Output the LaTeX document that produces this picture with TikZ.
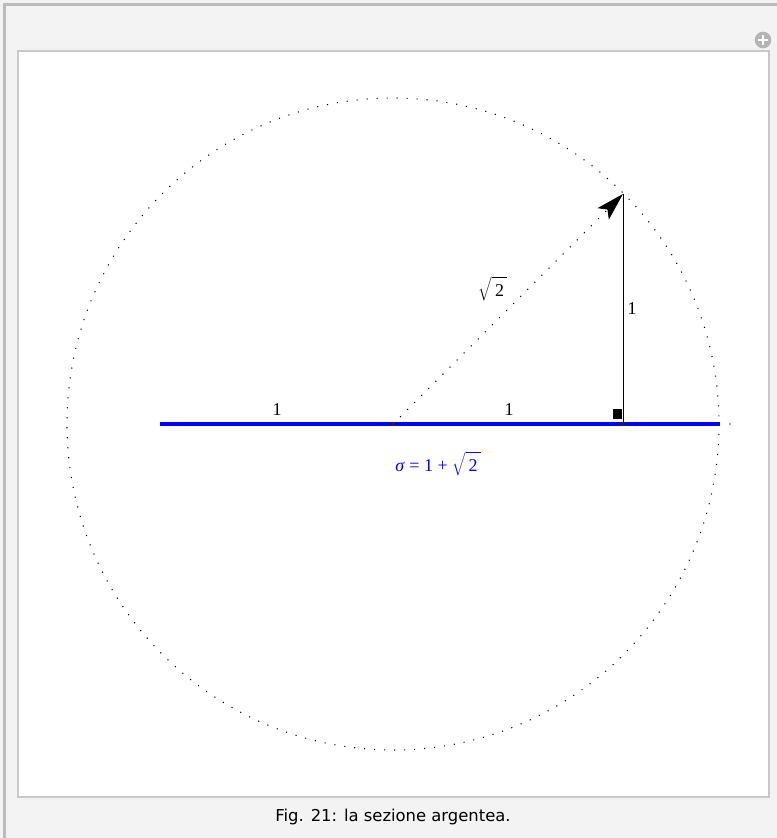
\documentclass[tikz,border=0pt]{standalone}
\usepackage{fontspec}
\setmainfont{Liberation Serif}
\newfontfamily\capfont{DejaVu Sans}
\usetikzlibrary{arrows.meta}
\definecolor{bgray}{HTML}{F3F3F3}
\definecolor{frameline}{HTML}{BBBBBB}
\definecolor{panelline}{HTML}{C8C8C8}
\definecolor{icongray}{HTML}{B5B5B5}
\definecolor{pureblue}{RGB}{0,0,255}
\newcommand{\rtwo}{$\sqrt{\mbox{\,2\,\rule[-0.12em]{0pt}{1.02em}}}$}
\tikzset{
  dotline/.style={line width=0.8pt, dash pattern=on 0.8pt off 6.7pt, line cap=butt},
  lbl/.style={font=\fontsize{13.5}{16}\selectfont, inner sep=0pt},
  bluelbl/.style={font=\fontsize{13.5}{16}\selectfont, text=pureblue, inner sep=0pt},
  ptdot/.style={circle, fill=black!85, inner sep=0pt, minimum size=3.2pt},
}
\begin{document}
\begin{tikzpicture}[x=0.75pt, y=-0.75pt]
\useasboundingbox (0,0) rectangle (777,838);
% background and frames
\fill[bgray] (0,0) rectangle (777,838);
\draw[frameline, line width=1.6pt] (4.5,838) -- (4.5,4.5) -- (777,4.5);
\draw[panelline, fill=white, line width=1.3pt] (18,51) rectangle (769,797);
% plus icon
\node[circle, fill=icongray, minimum size=12.5pt, inner sep=0pt] (plus) at (763,40) {};
\draw[white, line width=1.8pt] ([xshift=-3.6pt]plus.center) -- ([xshift=3.6pt]plus.center);
\draw[white, line width=1.8pt] ([yshift=-3.6pt]plus.center) -- ([yshift=3.6pt]plus.center);
% key points
\coordinate (O) at (393,424);
\coordinate (P) at (623,424);
\coordinate (T) at (623,194);
\coordinate (L) at (160,424);
\coordinate (R) at (720,424);
% circle
\draw[dotline] (O) circle[radius=326];
% blue segment
\draw[pureblue, line width=3pt] (L) -- (R);
% vertical side
\draw[black, line width=0.65pt] (P) -- (T);
% right-angle marker
\fill[black] (613,409) rectangle (622,419);
% radius arrow
\draw[dotline, -{Stealth[length=21pt, width=12pt, inset=4.5pt]}] (O) -- (T);
% points
\node[ptdot] (o) at (O) {};
\node[ptdot] (p) at (P) {};
\node[circle, fill=black!45, inner sep=0pt, minimum size=1.6pt] (e) at (730,424) {};
% labels
\node[lbl] (l1) at (277,410) {1};
\node[lbl] (l2) at (509,410) {1};
\node[lbl] (l3) at (632,309) {1};
\node[lbl] (ls) at (493,289) {\rtwo};
\node[bluelbl] (sig) at (438,464) {\textit{σ} = 1 + \rtwo};
% caption
\node[font=\capfont\fontsize{12.3}{14}\selectfont, inner sep=0pt] (cap) at (393,817) {Fig. 21: la sezione argentea.};
\end{tikzpicture}
\end{document}
